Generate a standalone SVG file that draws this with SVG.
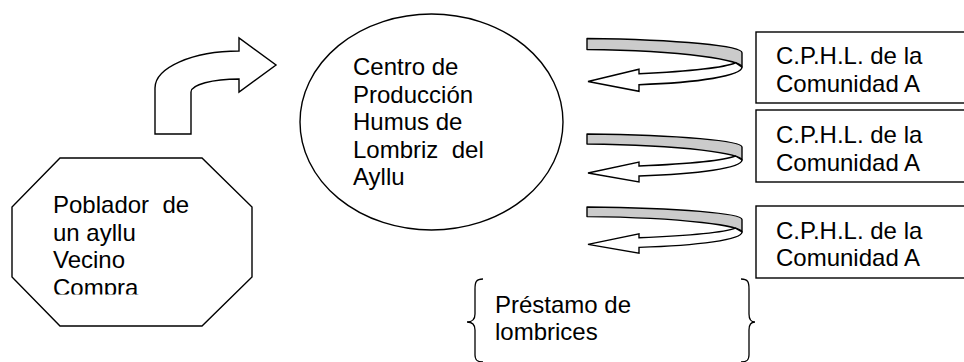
<svg xmlns="http://www.w3.org/2000/svg" xmlns:xlink="http://www.w3.org/1999/xlink" width="964" height="362" viewBox="0 0 964 362">
<style>
.sh{fill:#fff;stroke:#000;stroke-width:1.4}
.gray{fill:#cbcbcb;stroke:#000;stroke-width:1.4;stroke-linejoin:round}
.wa{fill:#fff;stroke:#000;stroke-width:1.4;stroke-linejoin:miter}
.br{fill:none;stroke:#000;stroke-width:1.3}
.t{font-family:"Liberation Sans",Arial,sans-serif;font-size:24px;fill:#000}
</style>
<defs>
<clipPath id="octClip"><rect x="0" y="150" width="260" height="144.5"/></clipPath>
<g id="curl">
<path class="gray" d="M0,0 C95,1 155,7 155,13 L155,26 C155,20 100,11 0,10 Z"/>
<path class="wa" d="M155,26 C155,34 112,40 52,42 L52,48 L1,39 L52,28 L52,32 C98,30 136,27 148.5,22 Z"/>
</g>
</defs>
<rect width="964" height="362" fill="#fff"/>
<g id="connectors">
<path id="bentArrow" class="sh" d="M155,134 V88 C155,67.6 192.6,51 239,51 V38 L276,65 L239,92 V79 C212.5,79 191,84.8 191,92 V134 Z"/>
<use xlink:href="#curl" transform="translate(587 38.5) scale(1 1.1)"/>
<use xlink:href="#curl" transform="translate(587 134)"/>
<use xlink:href="#curl" transform="translate(587 207) scale(1 0.96)"/>
</g>
<g id="poblador">
<polygon class="sh" points="60,158 202,158 252,207 252,277 202,326 60,326 12,277 12,207"/>
<g clip-path="url(#octClip)">
<text class="t" x="53" y="213" xml:space="preserve">Poblador  de</text>
<text class="t" x="53" y="240.5">un ayllu</text>
<text class="t" x="53" y="268">Vecino</text>
<text class="t" x="53" y="295.5">Compra</text>
</g>
</g>
<g id="centro">
<ellipse class="sh" cx="431.5" cy="122" rx="131.5" ry="108"/>
<text class="t" x="353" y="75">Centro de</text>
<text class="t" x="353" y="102.5">Producción</text>
<text class="t" x="353" y="130">Humus de</text>
<text class="t" x="353" y="157.5" xml:space="preserve">Lombriz  del</text>
<text class="t" x="353" y="185">Ayllu</text>
</g>
<g id="comunidad1">
<rect class="sh" x="756" y="32" width="220" height="71"/>
<text class="t" x="776" y="64">C.P.H.L. de la</text>
<text class="t" x="776" y="91.5">Comunidad A</text>
</g>
<g id="comunidad2">
<rect class="sh" x="756" y="110" width="220" height="72"/>
<text class="t" x="776" y="143">C.P.H.L. de la</text>
<text class="t" x="776" y="170.5">Comunidad A</text>
</g>
<g id="comunidad3">
<rect class="sh" x="756" y="206" width="220" height="72"/>
<text class="t" x="776" y="238.5">C.P.H.L. de la</text>
<text class="t" x="776" y="266">Comunidad A</text>
</g>
<g id="prestamo">
<path class="br" d="M483,279 C476,279 475,282 475,289 L475,314 C475,319 472,322 467,322 C472,322 475,325 475,330 L475,355 C475,360 477,362 483,362"/>
<path class="br" d="M741,279 C748,279 749,282 749,289 L749,314 C749,319 751,322 755,322 C751,322 749,325 749,330 L749,355 C749,360 747,362 741,362"/>
<text class="t" x="495" y="313">Préstamo de</text>
<text class="t" x="495" y="340">lombrices</text>
</g>
</svg>
